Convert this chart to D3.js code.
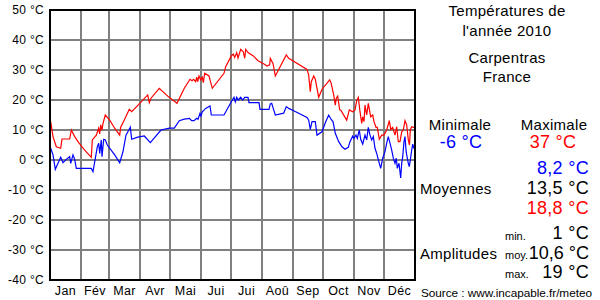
<!DOCTYPE html>
<html><head><meta charset="utf-8">
<script src="https://cdn.jsdelivr.net/npm/d3@7"></script>
<style>
html,body{margin:0;padding:0;background:#fff;}
svg{display:block;font-family:"Liberation Sans",Arial,sans-serif;}
</style></head>
<body>
<svg id="c" width="600" height="300"></svg>
<script>
const months = ["Jan","Fév","Mar","Avr","Mai","Jui","Jui","Aoû","Sep","Oct","Nov","Déc"];
const monthStarts = [0,31,59,90,120,151,181,212,243,273,304,334,365];
const yTicks = [50,40,30,20,10,0,-10,-20,-30,-40];

const maxDays = [0.7,3,6.3,10.7,12,19.7,21.3,24.7,28.7,34.7,41.3,42.3,46.3,48.7,49.7,50.7,52,53,55.3,59.7,64.7,69.7,70.7,74.3,79.3,81.7,89.3,97.7,99.3,101,109.3,117.7,127,134.3,140,142,143.7,145.7,146.7,147.7,149,150.7,152.3,153.3,154.7,159,162.3,174,175.7,181.3,183.3,184.7,186.7,188,190.7,193.3,194.7,195.7,198,203.3,208,214,217,219.7,220.3,222,223,225.3,236.3,238.7,257,258.7,260.3,261.3,263.7,265.3,268.7,272,279.7,281,283.7,285.3,286.3,287.7,289.7,291,296.7,299.3,302.7,305,306.7,308.3,310,311.7,312.7,314,315,316.7,318.3,320.7,322.7,324,326,327.3,329.3,331.7,334,336.7,339.3,340.7,342.7,345,346.7,348.3,350,351.7,353.3,355,356.7,358.3,359.5,360.3,361.7,363.3,365];
const maxVals = [12.8,7.8,4.4,3.9,7,7,10,7.8,5.8,3.3,0.9,6.7,8.3,10.6,8.7,11.7,10,12.2,15,13.3,10.6,8.3,10.9,13.3,16.9,16.1,18.7,21.7,19.1,20.6,23.9,21.3,18.9,23.9,26.9,26.4,26.9,26.1,27.6,26.1,28,26.7,27.6,25.8,28.9,28,23.9,28.9,31.1,34.7,35.3,34.2,35.8,34,36.9,36.1,33.9,36.9,35.8,34.7,33.1,32,31.3,31.7,33.9,32.8,32.2,28,35,33.9,30.2,28.3,22.8,26.1,28,26.9,20.9,23.6,26.7,25.8,21.7,18.3,20.6,21.3,16.7,16.5,13.3,16.7,16.1,16.7,19.8,20.9,16.1,12.2,14.4,12.8,18.3,15,18.9,14.4,15,12.8,10.9,10.9,6.9,8.3,8.3,10,13.1,10.2,10.9,8.3,11.1,6.1,6.1,9.4,10,13.1,11.7,6.7,5,10,11.1,10.9,10.9];

const minDays = [0.7,3,5.3,8,10.7,13,16.3,19.7,20.7,23,24.7,26.3,41.3,43,44.7,47.3,48.7,49.7,51.3,52,53.7,55.3,57.3,64.7,69.7,73,76,80.3,81.7,87.7,94.3,100.3,111,119.3,124.3,129.3,134.3,139.3,141.7,144,146.7,148,150,151,152.3,155.7,160,161.3,174,181.3,184,185.3,186.7,188.3,190.7,192.7,194.7,198,199,209,210,219,220.3,221.7,223.7,225.3,233.7,236.3,238.7,243.7,257,258.7,260.3,262,265.3,267,272,275.3,278.7,281,283,285.3,288.7,292,295,298.3,300,302.7,304,306,307.3,309.3,310.7,312.7,315,316.7,318.3,320,321.7,323.3,325,326.7,329.3,330.7,332.7,335,336.7,338.3,340,341.7,343.3,345,346.3,347.3,349,350.7,351.7,352.7,354,355,356,356.7,358.3,359.3,360.3,361.7,362.7,364,365];
const minVals = [3.9,1.7,-3.1,-1.1,0.9,-0.9,0.2,1.1,-1.1,1.7,0.2,-2.8,-2.8,-3.9,-0.6,4.4,5.6,2.2,6.7,1.1,6.9,6.7,5,1.7,-0.9,2.8,8.3,10.9,6.9,7.6,8,5.8,10,10.6,10.6,13.1,13.6,13.9,13.1,13.1,13.9,13.6,15.6,14.7,16.1,17.2,18,15,15,19.4,20.9,19.4,20.9,20,20.9,20,20.9,20.9,19.1,19.1,16.9,16.9,18.7,18.9,16.7,15,15.6,17.8,17.2,16.4,14.2,13.3,10.2,12.8,12.8,8.3,9.4,12.4,15,13.6,12.8,8.9,6.1,4.4,3.6,4.2,6.1,8,7.2,8.3,7.2,10,6.9,5.3,8.3,6.7,10.9,8.3,6.7,7.8,3.9,2.2,-1.1,-2.8,0.6,2.8,5.6,7.8,5.6,3.3,0.6,-1.1,0.6,-2.8,-1.1,-6,-1.1,1.1,6.1,7.8,3.3,1.7,-1.1,-2.2,0,3.3,5.3,3.9,3.9];

const svg = d3.select("#c");
const x = d3.scaleLinear().domain([0,365]).range([50,415]);
const y = d3.scaleLinear().domain([-40,50]).range([280,10]);

// grid
const grid = svg.append("g").attr("shape-rendering","crispEdges");
grid.selectAll("line.h").data(yTicks.slice(1,-1)).join("line")
  .attr("x1",50).attr("x2",415).attr("y1",d=>y(d)).attr("y2",d=>y(d))
  .attr("stroke","#808080").attr("stroke-width",2);
grid.selectAll("line.v").data(monthStarts.slice(1,-1)).join("line")
  .attr("y1",10).attr("y2",280).attr("x1",d=>x(d)).attr("x2",d=>x(d))
  .attr("stroke","#808080").attr("stroke-width",2);

// y axis labels
const yAxis = d3.axisLeft(y).tickValues(yTicks).tickSize(0).tickPadding(6).tickFormat(d=>d+" °C");
const ya = svg.append("g").attr("transform","translate(50,0)").call(yAxis);
ya.select(".domain").remove();
ya.selectAll("text").attr("font-size",12).attr("fill","#000").attr("font-family","Liberation Sans, Arial, sans-serif").attr("letter-spacing","0.3");

// month labels
svg.append("g").selectAll("text").data(months).join("text")
  .attr("x",(d,i)=>x((monthStarts[i]+monthStarts[i+1])/2))
  .attr("y",295).attr("text-anchor","middle").attr("font-size",12.5).attr("letter-spacing","0.4").text(d=>d);

// lines
const line = d3.line().x(d=>x(d[0])).y(d=>y(d[1]));
svg.append("path").datum(maxDays.map((d,i)=>[d,maxVals[i]])).attr("d",line)
  .attr("fill","none").attr("stroke","#ff0000").attr("stroke-width",1.2);
svg.append("path").datum(minDays.map((d,i)=>[d,minVals[i]])).attr("d",line)
  .attr("fill","none").attr("stroke","#0000ff").attr("stroke-width",1.2);

// frame
svg.append("rect").attr("x",50).attr("y",10).attr("width",365).attr("height",270)
  .attr("fill","none").attr("stroke","#000").attr("stroke-width",2).attr("shape-rendering","crispEdges");

// right panel
const t = (txt,xx,yy,opts={})=>svg.append("text").attr("x",xx).attr("y",yy)
  .attr("font-size",opts.size||15).attr("fill",opts.color||"#000")
  .attr("text-anchor",opts.anchor||"middle").attr("letter-spacing",opts.ls||"0.3").text(txt);
t("Températures de",507,16);
t("l'année 2010",507,36);
t("Carpentras",507,63);
t("France",507,82);
t("Minimale",460,130);
t("Maximale",554,130);
t("-6 °C",461,148,{size:18,color:"#0000ff"});
t("37 °C",553,148,{size:18,color:"#ff0000"});
t("8,2 °C",589,174,{size:18,color:"#0000ff",anchor:"end"});
t("Moyennes",420,194,{anchor:"start"});
t("13,5 °C",589,194,{size:18,anchor:"end"});
t("18,8 °C",589,214,{size:18,color:"#ff0000",anchor:"end"});
t("min.",505,240,{size:11,anchor:"start",ls:"0"});
t("1 °C",589,239,{size:18,anchor:"end"});
t("Amplitudes",420,259,{anchor:"start"});
t("moy.",505,259,{size:11,anchor:"start",ls:"0"});
t("10,6 °C",589,259,{size:18,anchor:"end",ls:"0"});
t("max.",505,278,{size:11,anchor:"start",ls:"0"});
t("19 °C",589,278,{size:18,anchor:"end"});
t("Source : www.incapable.fr/meteo",421,297,{size:11.8,anchor:"start",ls:"-0.05"});
</script>
</body></html>
